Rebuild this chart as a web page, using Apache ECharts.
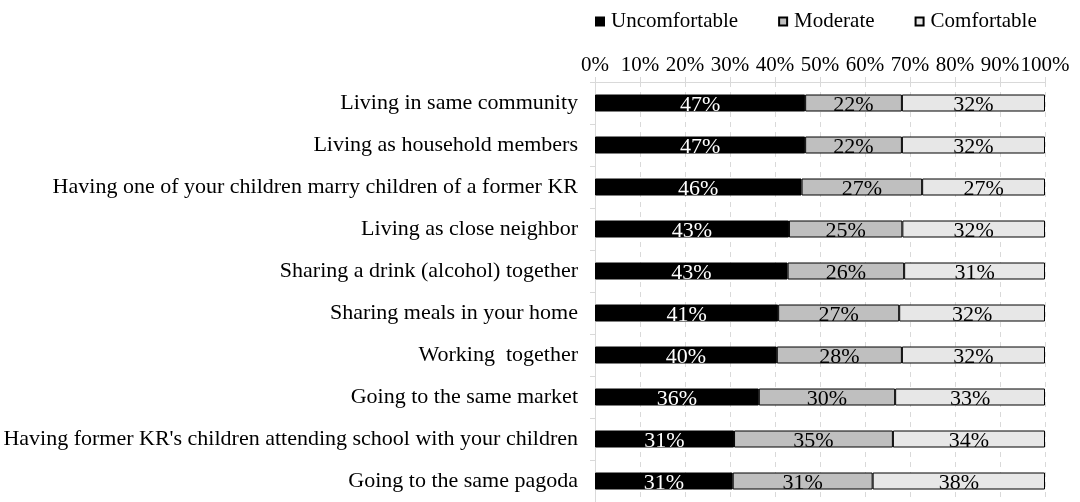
<!DOCTYPE html>
<html>
<head>
<meta charset="utf-8">
<script src="https://cdn.jsdelivr.net/npm/echarts@6/dist/echarts.min.js"></script>
<style>
  html, body { margin: 0; padding: 0; background: #fff; }
  #chart { width: 1080px; height: 502px; }
</style>
</head>
<body>
<div id="chart"></div>
<script>
// categories, top to bottom
const categories = [
  'Living in same community',
  'Living as household members',
  'Having one of your children marry children of a former KR',
  'Living as close neighbor',
  'Sharing a drink (alcohol) together',
  'Sharing meals in your home',
  'Working  together',
  'Going to the same market',
  "Having former KR's children attending school with your children",
  'Going to the same pagoda'
]
const uncomfortable = [46.7, 46.7, 45.9, 43.1, 42.8, 40.7, 40.4, 36.4, 30.9, 30.6]
const moderate = [21.5, 21.5, 26.8, 25.2, 25.9, 26.9, 27.8, 30.3, 35.3, 31.1]
const comfortable = [31.8, 31.8, 27.3, 31.7, 31.3, 32.4, 31.8, 33.3, 33.8, 38.3]

const FONT = 'Liberation Serif'

const chart = echarts.init(document.getElementById('chart'))

const makeSeries = (name, data, color, labelColor) => ({
  name: name,
  type: 'bar',
  stack: 'total',
  barWidth: 17,
  data: data,
  itemStyle: { color: color, borderColor: '#000', borderWidth: 1 },
  label: {
    show: true,
    position: 'inside',
    color: labelColor,
    fontFamily: FONT,
    fontSize: 22,
    offset: [0, 2],
    formatter: (p) => Math.round(p.value) + '%'
  }
})

chart.setOption({
  animation: false,
  textStyle: { fontFamily: FONT },
  legend: {
    top: 6,
    left: 590,
    icon: 'rect',
    itemWidth: 8,
    itemHeight: 8,
    itemGap: 40,
    textStyle: { fontFamily: FONT, fontSize: 21, color: '#000', padding: [0, 0, 0, 2] },
    data: ['Uncomfortable', 'Moderate', 'Comfortable']
  },
  grid: { left: 595, right: 35, top: 82, height: 429 },
  xAxis: {
    type: 'value',
    position: 'top',
    min: 0,
    max: 100,
    interval: 10,
    axisLine: { show: true, lineStyle: { color: '#d9d9d9' } },
    axisTick: { show: true, length: 5, lineStyle: { color: '#d9d9d9' } },
    axisLabel: {
      margin: 6,
      color: '#000',
      fontFamily: FONT,
      fontSize: 21,
      formatter: (v) => v + '%'
    },
    splitLine: { show: true, lineStyle: { color: '#d9d9d9', type: [5, 5] } }
  },
  yAxis: {
    type: 'category',
    inverse: true,
    data: categories,
    axisLine: { show: true, lineStyle: { color: '#d9d9d9' } },
    axisTick: { show: true, length: 5, lineStyle: { color: '#d9d9d9' } },
    axisLabel: { margin: 17, color: '#000', fontFamily: FONT, fontSize: 22 }
  },
  series: [
    makeSeries('Uncomfortable', uncomfortable, '#000000', '#fff'),
    makeSeries('Moderate', moderate, '#bfbfbf', '#000'),
    makeSeries('Comfortable', comfortable, '#e7e7e7', '#000')
  ]
})
</script>
</body>
</html>
